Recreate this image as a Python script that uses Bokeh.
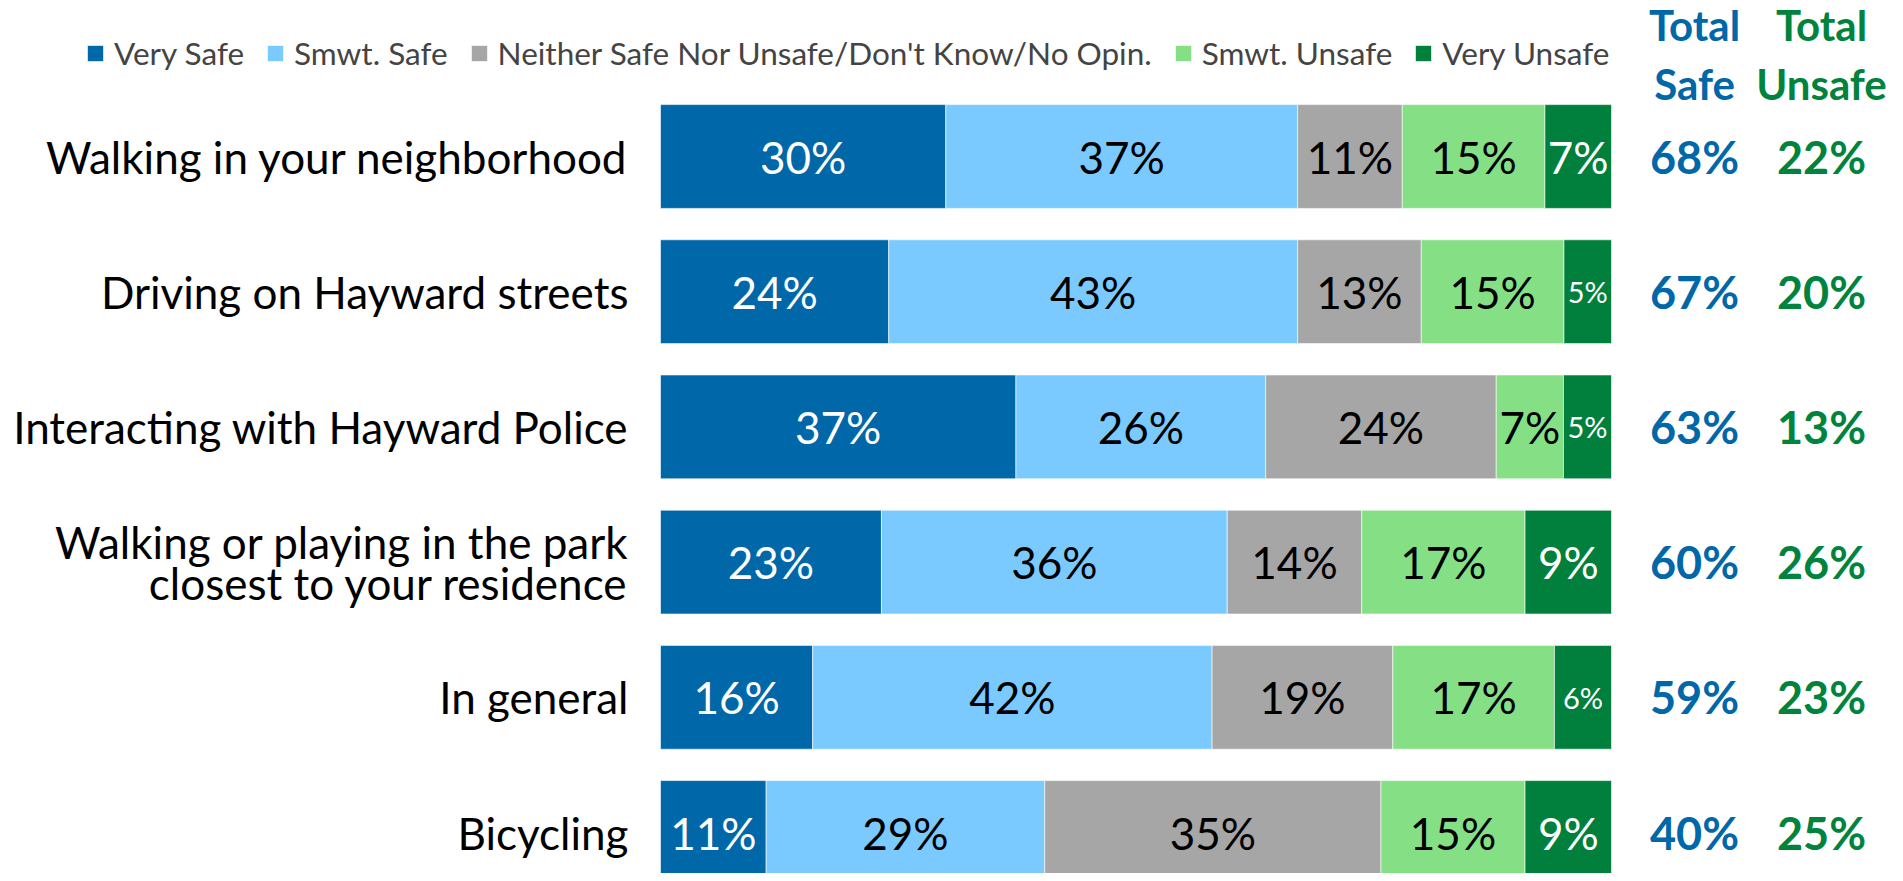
from bokeh.plotting import figure
from bokeh.models import ColumnDataSource, Range1d, Legend, LegendItem
from bokeh.core.properties import value
from bokeh.embed import file_html
from bokeh.resources import INLINE
import numpy as np

# ---------------- data ----------------
categories = [
    "Walking in your neighborhood",
    "Driving on Hayward streets",
    "Interacting with Hayward Police",
    "Walking or playing in the park\nclosest to your residence",
    "In general",
    "Bicycling",
]
series_names = [
    "Very Safe",
    "Smwt. Safe",
    "Neither Safe Nor Unsafe/Don't Know/No Opin.",
    "Smwt. Unsafe",
    "Very Unsafe",
]
very_safe = [30, 24, 37, 23, 16, 11]
smwt_safe = [37, 43, 26, 36, 42, 29]
neither = [11, 13, 24, 14, 19, 35]
smwt_unsafe = [15, 15, 7, 17, 17, 15]
very_unsafe = [7, 5, 5, 9, 6, 9]
total_safe = [68, 67, 63, 60, 59, 40]
total_unsafe = [22, 20, 13, 26, 23, 25]
header_safe = ["Total", "Safe"]
header_unsafe = ["Total", "Unsafe"]

# ---------------- style ----------------
colors = ["#0067A9", "#7ACAFF", "#A6A6A6", "#85E085", "#00803C"]
label_colors = ["white", "black", "black", "black", "white"]
safe_color = "#0067A9"
unsafe_color = "#00843D"
FONT = "Lato"

W, H = 1887, 873
px_per_unit_x = 9.51       # 100% -> 951 px
bar_left_px = 660          # figure px where 0% sits
row_pitch = 135.2
first_row_px = 156         # figure px (from top) of the first row center
x0 = -bar_left_px / px_per_unit_x
x1 = (W - bar_left_px) / px_per_unit_x
n = len(categories)
y_top = (n - 1) + first_row_px / row_pitch
y_bot = y_top - H / row_pitch


def px_x(px):
    return (px - bar_left_px) / px_per_unit_x


def px_y(px):
    return y_top - px / row_pitch


p = figure(width=W, height=H, x_range=Range1d(x0, x1), y_range=Range1d(y_bot, y_top),
           output_backend="svg", toolbar_location=None,
           x_axis_location=None, y_axis_location=None, min_border=0)
p.grid.visible = False
p.outline_line_color = None
p.background_fill_color = "white"

ypos = [n - 1 - i for i in range(n)]
raw = np.array([very_safe, smwt_safe, neither, smwt_unsafe, very_unsafe], dtype=float)
norm = raw / raw.sum(axis=0) * 100.0   # 100% stacked bars

keys = ["s%d" % k for k in range(len(series_names))]
data = {"y": ypos}
for k, key in enumerate(keys):
    data[key] = list(norm[k])
src = ColumnDataSource(data)
rends = p.hbar_stack(keys, y="y", height=0.768, color=colors, source=src,
                     line_color="white", line_width=0.6)

# segment labels
cum = np.cumsum(norm, axis=0)
lx, ly, lt, lc, ls = [], [], [], [], []
for k in range(len(series_names)):
    for i in range(n):
        right = cum[k, i]
        left = right - norm[k, i]
        lx.append((left + right) / 2)
        ly.append(ypos[i])
        lt.append("%d%%" % raw[k, i])
        lc.append(label_colors[k])
        ls.append("29px" if raw[k, i] < 7 else "44px")
p.text(x="x", y="y", text="t", text_color="c", text_font_size="s",
       source=ColumnDataSource(dict(x=lx, y=ly, t=lt, c=lc, s=ls)),
       text_font=value(FONT), text_align="center", text_baseline="middle")

# category labels
p.text(x=px_x(628), y=ypos, text=categories, text_font=value(FONT), text_font_size="44px",
       text_align="right", text_baseline="middle", text_color="black", text_line_height=0.79)

# totals
col_safe_x = px_x(1694)
col_unsafe_x = px_x(1821)
p.text(x=col_safe_x, y=ypos, text=["%d%%" % v for v in total_safe], text_font=value(FONT),
       text_font_size="45px", text_font_style="bold", text_color=safe_color,
       text_align="center", text_baseline="middle")
p.text(x=col_unsafe_x, y=ypos, text=["%d%%" % v for v in total_unsafe], text_font=value(FONT),
       text_font_size="45px", text_font_style="bold", text_color=unsafe_color,
       text_align="center", text_baseline="middle")

head_rows = [px_y(24), px_y(83)]
p.text(x=[col_safe_x] * 2, y=head_rows, text=header_safe, text_font=value(FONT),
       text_font_size="42px", text_font_style="bold", text_color=safe_color,
       text_align="center", text_baseline="middle")
p.text(x=[col_unsafe_x] * 2, y=head_rows, text=header_unsafe, text_font=value(FONT),
       text_font_size="42px", text_font_style="bold", text_color=unsafe_color,
       text_align="center", text_baseline="middle")

# legend
legend = Legend(items=[LegendItem(label=nm, renderers=[r]) for nm, r in zip(series_names, rends)],
                orientation="horizontal", location=(85, H - 48 - 24),
                label_text_font=FONT, label_text_font_size="31.5px", label_standoff=9,
                spacing=21, glyph_width=20, glyph_height=20, padding=0, margin=0,
                border_line_color=None, background_fill_alpha=0)
p.add_layout(legend, "center")

open("out.html", "w").write(file_html(p, INLINE))
